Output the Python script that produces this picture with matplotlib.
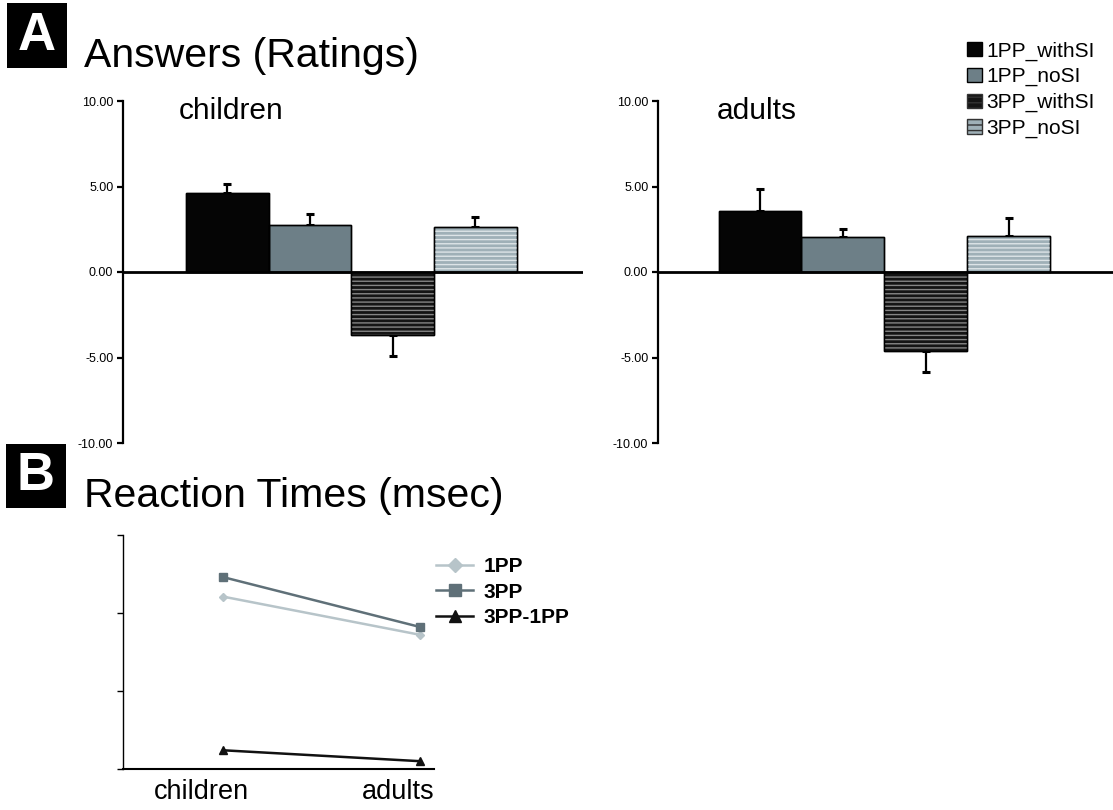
import numpy as np
import matplotlib
matplotlib.use("Agg")
import matplotlib.pyplot as plt
import matplotlib.transforms as mtransforms
from matplotlib.patches import Patch, Rectangle

plt.rcParams['font.family'] = ['Liberation Sans', 'DejaVu Sans']
plt.rcParams['axes.unicode_minus'] = False
plt.rcParams['hatch.linewidth'] = 1.0

# panel A: ratings
conditions = ['1PP_withSI', '1PP_noSI', '3PP_withSI', '3PP_noSI']
children_means = [4.60, 2.73, -3.66, 2.62]
children_err = [0.52, 0.64, 1.24, 0.58]
adults_means = [3.55, 2.03, -4.61, 2.11]
adults_err = [1.30, 0.49, 1.24, 1.05]
y_ticks = [10, 5, 0, -5, -10]

# panel B: reaction times (no scale shown, arbitrary units)
groups = ['children', 'adults']
rt_1pp = [2.21, 1.72]
rt_3pp = [2.46, 1.82]
rt_diff = [0.24, 0.10]

face_cols = ['#050505', '#6d7f87', '#141414', '#9fb0b7']
hatch_cols = [None, None, '#858585', '#dde4e7']

W, H = 1113, 810
fig = plt.figure(figsize=(W / 100, H / 100), dpi=100)


def fx(px):
    return px / W


def fy(py):
    return 1 - py / H


def bar_panel(ax, means, errs, label, label_x):
    x = np.arange(len(means))
    ax.bar(x, means, width=1.0, color=face_cols, edgecolor='black', linewidth=1.0, zorder=2)
    for i in range(len(means)):
        if hatch_cols[i] is not None:
            ax.bar(x[i], means[i], width=1.0, facecolor='none', edgecolor=hatch_cols[i],
                   hatch='----', linewidth=0, zorder=3)
    ax.bar(x, means, width=1.0, fill=False, edgecolor='black', linewidth=1.0, zorder=4)
    m = np.array(means)
    e = np.array(errs)
    lower = np.where(m < 0, e, 0)
    upper = np.where(m >= 0, e, 0)
    ax.errorbar(x, m, yerr=[lower, upper], fmt='none', ecolor='black', elinewidth=1.6,
                capsize=3, capthick=2.2, zorder=1)
    ax.axhline(0, color='black', lw=2, zorder=5)
    ax.set_ylim(-10, 10)
    ax.set_yticks(y_ticks)
    ax.set_yticklabels(['%.2f' % t for t in y_ticks], fontsize=9)
    ax.set_xticks([])
    for s in ['top', 'right', 'bottom']:
        ax.spines[s].set_visible(False)
    ax.spines['left'].set_linewidth(1.6)
    ax.tick_params(axis='y', length=4, width=1.6, pad=3)
    ax.text(label_x, 0.972, label, transform=ax.transAxes, fontsize=21.5, va='center', ha='left')


axA1 = fig.add_axes([fx(123), fy(443), fx(583) - fx(123), (443 - 101) / H])
bar_panel(axA1, children_means, children_err, 'children', 0.122)
axA1.set_xlim(-1.26, 4.3)

axA2 = fig.add_axes([fx(658), fy(443), fx(1113) - fx(658), (443 - 101) / H])
bar_panel(axA2, adults_means, adults_err, 'adults', 0.13)
axA2.set_xlim(-1.23, 4.26)

# legend A
handles = []
for i, c in enumerate(conditions):
    hc = hatch_cols[i]
    handles.append(Patch(facecolor=face_cols[i], edgecolor='black' if hc is None else '#333333',
                         hatch='---' if hc else None, label=c))
fig.legend(handles=handles, loc='upper left', bbox_to_anchor=(fx(959), fy(33)), frameon=False,
           fontsize=15, handlelength=0.7, handleheight=0.7, handletextpad=0.2,
           labelspacing=0.32, borderaxespad=0)

# panel B
axB = fig.add_axes([fx(123), fy(769), fx(434) - fx(123), (769 - 535) / H])
xb = np.arange(len(groups))
axB.plot(xb, rt_1pp, color='#b7c4c9', marker='D', markersize=4.5, lw=1.8, label='1PP')
axB.plot(xb, rt_3pp, color='#5f7078', marker='s', markersize=5.5, lw=1.8, label='3PP')
axB.plot(xb, rt_diff, color='#111111', marker='^', markersize=5.5, lw=1.8, label='3PP-1PP')
axB.set_ylim(0, 3)
axB.set_yticks([0, 1, 2, 3])
axB.set_yticklabels([])
axB.set_xlim(-0.508, 1.07)
axB.set_xticks([])
# category labels sit a little left of the data points
lab_trans = mtransforms.blended_transform_factory(axB.transData, axB.transAxes) + \
    mtransforms.ScaledTranslation(-22 / 100, -10 / 100, fig.dpi_scale_trans)
for xi, g in zip(xb, groups):
    axB.text(xi, 0, g, transform=lab_trans, fontsize=19.5, ha='center', va='top')
axB.tick_params(axis='y', length=4, width=1)
for s in ['top', 'right']:
    axB.spines[s].set_visible(False)
axB.spines['left'].set_linewidth(1)
axB.spines['bottom'].set_linewidth(1.5)
fig.legend(loc='upper left', bbox_to_anchor=(fx(428), fy(549)), frameon=False,
           handles=axB.get_lines(), handlelength=1.75, handletextpad=0.5, markerscale=1.6,
           labelspacing=0.3, borderaxespad=0, prop={'weight': 'bold', 'size': 15})

# panel letters and titles
for letter, (x0, y0, x1, y1) in [('A', (7, 3, 67, 68)), ('B', (6, 444, 66, 508))]:
    fig.patches.append(Rectangle((fx(x0), fy(y1)), fx(x1) - fx(x0), (y1 - y0) / H,
                                 transform=fig.transFigure, facecolor='black', edgecolor='none'))
    fig.text(fx((x0 + x1) / 2), fy((y0 + y1) / 2), letter, color='white', fontsize=38,
             fontweight='bold', ha='center', va='center')
fig.text(fx(84), fy(67), 'Answers (Ratings)', fontsize=29.5, va='baseline', ha='left')
fig.text(fx(84), fy(507), 'Reaction Times (msec)', fontsize=29.5, va='baseline', ha='left')

fig.savefig('out.png', dpi=100)
